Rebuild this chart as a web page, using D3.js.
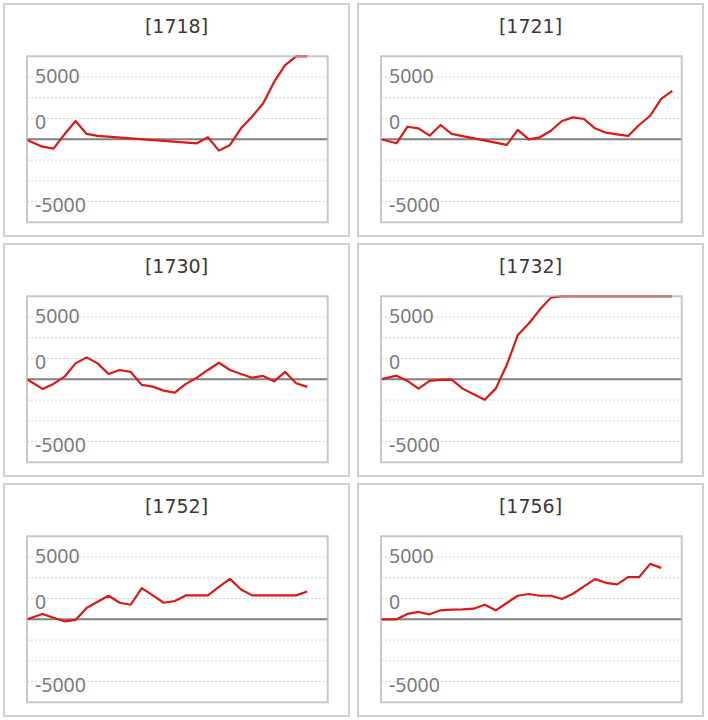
<!DOCTYPE html>
<html>
<head>
<meta charset="utf-8">
<script src="https://cdn.jsdelivr.net/npm/d3@7/dist/d3.min.js"></script>
<style>
  html, body { margin: 0; padding: 0; background: #fff; }
  svg { display: block; }
</style>
</head>
<body>
<svg id="chart" width="708" height="720"></svg>
<script>
// ---------- data ----------
const titles = ["[1718]", "[1721]", "[1730]", "[1732]", "[1752]", "[1756]"];

// x: trading-session index (0 = start point), y: cumulative value
const s1718_x = [0, 1, 2, 3, 4, 5, 6, 15, 16, 17, 18, 19, 20, 21, 22, 23, 24, 25];
const s1718_y = [-50, -590, -750, 400, 1470, 430, 270, -320, 160, -910, -450, 880, 1810, 2880, 4610, 5950, 6870, 7300];

const s1721_x = [0, 1, 2, 3, 4, 5, 6, 11, 12, 13, 14, 15, 16, 17, 18, 19, 20, 21, 22, 23, 24, 25, 26];
const s1721_y = [0, -320, 1010, 880, 290, 1150, 430, -450, 750, 0, 160, 690, 1470, 1760, 1630, 880, 530, 400, 270, 1150, 1890, 3250, 3890];

const s1730_x = [0, 1, 2, 3, 4, 5, 6, 7, 8, 9, 10, 11, 12, 13, 14, 15, 16, 17, 18, 19, 20, 21, 22, 23, 24, 25];
const s1730_y = [0, -770, -370, 210, 1280, 1760, 1280, 430, 750, 590, -450, -590, -910, -1070, -370, 130, 750, 1330, 750, 430, 130, 270, -160, 590, -320, -610];

const s1732_x = [0, 1, 2, 3, 4, 5, 6, 7, 8, 9, 10, 11, 12, 13, 14, 15, 16, 17, 18, 19, 20, 21, 22, 23, 24, 25, 26];
const s1732_y = [0, 290, -130, -750, -130, -50, -30, -750, -1200, -1650, -750, 1150, 3550, 4480, 5600, 6560, 6900, 7100, 7400, 7600, 7800, 8000, 8100, 8300, 8500, 8600, 8800];

const s1752_x = [0, 1, 2, 3, 4, 5, 6, 7, 8, 9, 10, 11, 12, 13, 14, 15, 16, 17, 18, 19, 20, 21, 22, 23, 24, 25];
const s1752_y = [0, 430, 130, -160, -50, 910, 1410, 1890, 1330, 1170, 2510, 1920, 1330, 1470, 1920, 1920, 1920, 2610, 3250, 2400, 1920, 1920, 1920, 1920, 1920, 2240];

const s1756_x = [0, 1, 2, 3, 4, 5, 6, 7, 8, 9, 10, 11, 12, 13, 14, 15, 16, 17, 18, 19, 20, 21, 22, 23, 24, 25];
const s1756_y = [0, 0, 430, 590, 400, 720, 770, 800, 850, 1170, 720, 1310, 1890, 2030, 1890, 1890, 1630, 2050, 2640, 3230, 2930, 2800, 3390, 3390, 4450, 4130];

const seriesX = [s1718_x, s1721_x, s1730_x, s1732_x, s1752_x, s1756_x];
const seriesY = [s1718_y, s1721_y, s1730_y, s1732_y, s1752_y, s1756_y];

const yTickLabels = [5000, 0, -5000];
const gridValues = [5000, 3333.3, 1666.7, -1666.7, -3333.3, -5000];
const yMax = 6666.7;
const xMax = 27.26;

// ---------- layout ----------
const svg = d3.select("#chart");
const panelW = 345, panelH = 232, stepX = 354, stepY = 240, originX = 4, originY = 4;
const plot = { left: 23, top: 52.3, width: 300.7, height: 166 };

const xPos = i => (i === 0 ? 0 : i + 0.4);

titles.forEach((title, p) => {
  const col = p % 2, row = Math.floor(p / 2);
  const g = svg.append("g").attr("transform", `translate(${originX + col * stepX},${originY + row * stepY})`);

  g.append("rect")
    .attr("x", 0).attr("y", 0).attr("width", panelW).attr("height", panelH)
    .attr("fill", "#fff").attr("stroke", "#d0d0d0").attr("stroke-width", 2);

  g.append("text")
    .attr("x", panelW / 2).attr("y", 28.7)
    .attr("text-anchor", "middle")
    .attr("font-family", "'DejaVu Sans', Verdana, sans-serif")
    .attr("font-size", 19)
    .attr("fill", "#3a3a3a")
    .text(title);

  const pg = g.append("g").attr("transform", `translate(${plot.left},${plot.top})`);

  const x = d3.scaleLinear().domain([0, xMax]).range([0, plot.width]);
  const y = d3.scaleLinear().domain([-yMax, yMax]).range([plot.height, 0]).clamp(true);

  // dotted grid
  pg.append("g").selectAll("line").data(gridValues).join("line")
    .attr("x1", 0).attr("x2", plot.width)
    .attr("y1", d => y(d)).attr("y2", d => y(d))
    .attr("stroke", "#d4d4d4").attr("stroke-width", 1)
    .attr("stroke-dasharray", "2,2");

  // zero line
  pg.append("line")
    .attr("x1", 0).attr("x2", plot.width)
    .attr("y1", y(0)).attr("y2", y(0))
    .attr("stroke", "#808080").attr("stroke-width", 2);

  // tick labels
  pg.append("g").selectAll("text").data(yTickLabels).join("text")
    .attr("x", 8)
    .attr("y", d => d === 0 ? y(d) - 10.3 : (d > 0 ? y(d) + 5.7 : y(d) + 10.1))
    .attr("font-family", "'Noto Sans', 'Open Sans', sans-serif")
    .attr("font-size", 19.5)
    .attr("fill", "#7a7a7a")
    .text(d => String(d));

  // series line
  const pts = seriesX[p].map((xi, i) => [xPos(xi), seriesY[p][i]]);
  const line = d3.line().x(d => x(d[0])).y(d => y(d[1]));
  pg.append("path")
    .attr("d", line(pts))
    .attr("fill", "none")
    .attr("stroke", "#dc1818")
    .attr("stroke-width", 2.2)
    .attr("stroke-linejoin", "round");

  // plot border (semi-transparent, drawn on top)
  pg.append("rect")
    .attr("x", 0).attr("y", 0).attr("width", plot.width).attr("height", plot.height)
    .attr("fill", "none")
    .attr("stroke", "#b0b0b0").attr("stroke-opacity", 0.7).attr("stroke-width", 2);
});
</script>
</body>
</html>
